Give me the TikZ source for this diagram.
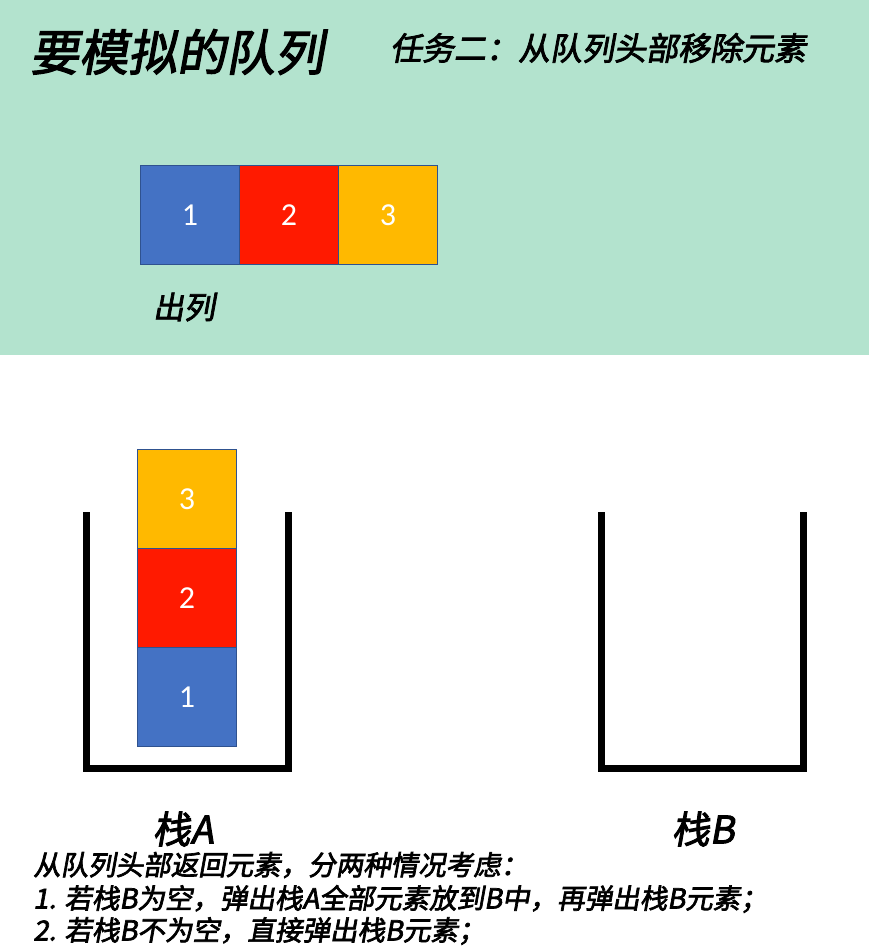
\documentclass[tikz,border=0pt]{standalone}
\usepackage{fontspec}
\usepackage{xcolor}
\usetikzlibrary{positioning}
\newfontfamily\cjk[FakeSlant=0.18,AutoFakeBold=2.5]{Noto Sans CJK SC}
\newfontfamily\digitfont{Carlito}
\definecolor{MintFill}{RGB}{179,227,206}
\definecolor{BoxBlue}{RGB}{68,114,196}
\definecolor{BoxRed}{RGB}{255,26,0}
\definecolor{BoxGold}{RGB}{255,185,0}
\definecolor{BoxLine}{RGB}{47,82,143}

\begin{document}
\begin{tikzpicture}[
    x=1pt, y=-1pt,
    cell/.style={
        rectangle, draw=BoxLine, line width=0.8pt, fill=#1,
        minimum width=99pt, minimum height=99pt, inner sep=0pt,
        outer sep=0pt, text=white,
        font=\digitfont\fontsize{32}{32}\selectfont
    },
    heading/.style={font=\cjk\bfseries\fontsize{#1}{#1}\selectfont,
                    inner sep=0pt},
    wall/.style={line width=7pt, line join=miter},
    note/.style={font=\cjk\bfseries\fontsize{27.5}{27.5}\selectfont,
                 inner sep=0pt, anchor=west}
]
\useasboundingbox (0,0) rectangle (869,948);

% Header band
\fill[MintFill] (0,0) rectangle (869,355);
\node[heading=49] (title) at (177,52) {要模拟的队列};
\node[heading=32] (task) at (598,48) {任务二：从队列头部移除元素};

% Queue
\node[cell=BoxBlue] (q1) at (190,215) {1};
\node[cell=BoxRed, right=0pt of q1] (q2) {2};
\node[cell=BoxGold, right=0pt of q2] (q3) {3};
\node[heading=31] (deq) at (184,307) {出列};

% Stacks
\draw[wall] (86,512) -- (86,768) -- (288,768) -- (288,512);
\draw[wall] (601,512) -- (601,768) -- (803,768) -- (803,512);

\node[cell=BoxBlue] (a1) at (187,697) {1};
\node[cell=BoxRed, above=0pt of a1] (a2) {2};
\node[cell=BoxGold, above=0pt of a2] (a3) {3};

\node[heading=38] (stackA) at (183,829) {栈A};
\node[heading=38] (stackB) at (703,829) {栈B};

% Notes
\node[note] (line0) at (33,865) {从队列头部返回元素，分两种情况考虑：};
\node[note] (line1) at (33,899) {1. 若栈B为空，弹出栈A全部元素放到B中，再弹出栈B元素；};
\node[note] (line2) at (33,931) {2. 若栈B不为空，直接弹出栈B元素；};

\end{tikzpicture}
\end{document}
